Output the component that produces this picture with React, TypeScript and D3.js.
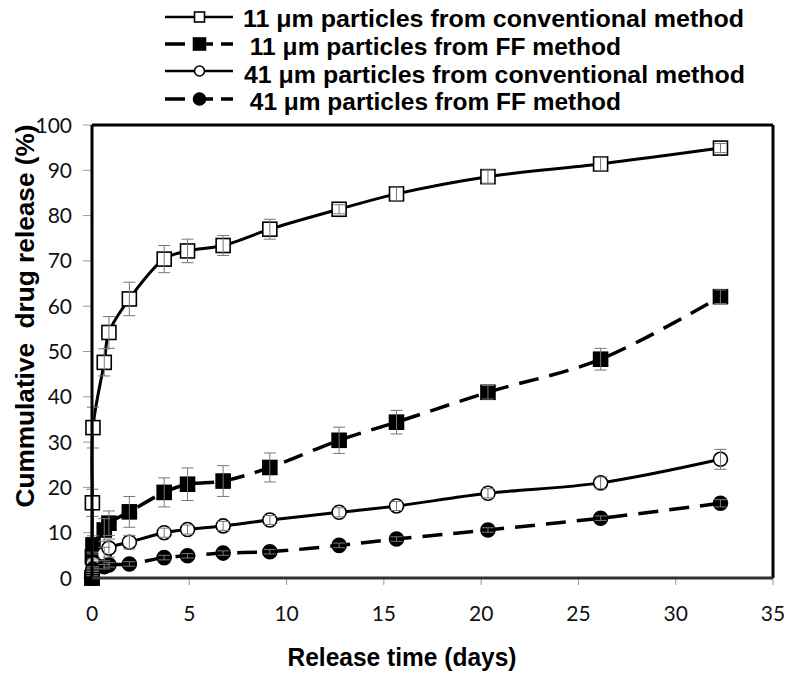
import React from "react";
import * as d3 from "d3";

const times = [0, 0.02, 0.05, 0.63, 0.87, 1.92, 3.71, 4.91, 6.74, 9.14, 12.7, 15.65, 20.35, 26.14, 32.3];

const conv11 = [0, 16.6, 33.2, 47.6, 54.2, 61.6, 70.4, 72.2, 73.4, 77.0, 81.4, 84.8, 88.6, 91.4, 94.9];
const conv11Err = [0, 3, 4.5, 3, 3.5, 3.7, 3, 2.6, 2.2, 2.2, 1, 1.5, 1.5, 1.5, 1];

const ff11 = [0, 4.7, 7.3, 10.6, 12.1, 14.6, 18.9, 20.7, 21.4, 24.4, 30.4, 34.4, 41.0, 48.3, 62.1];
const ff11Err = [0, 1, 2, 2.5, 2.7, 3.4, 3.2, 3.6, 3.4, 3.2, 2.9, 2.6, 1.5, 2.4, 1.5];

const conv41 = [0, 1.5, 3.2, 5.3, 6.6, 7.9, 10.0, 10.7, 11.5, 12.8, 14.5, 15.9, 18.7, 21.0, 26.2];
const conv41Err = [0, 0.5, 1, 1.5, 2, 1.5, 1, 1, 1, 1, 1, 1, 1, 1.3, 2.2];

const ff41 = [0, 1.0, 2.0, 2.5, 2.9, 3.1, 4.5, 4.9, 5.5, 5.8, 7.2, 8.6, 10.6, 13.2, 16.5];
const ff41Err = [0, 0.5, 0.5, 0.5, 0.5, 0.5, 0.5, 0.5, 0.5, 0.5, 0.5, 0.5, 0.5, 0.5, 0.8];

const legendLabels = [
  "11 \u03bcm particles from conventional method",
  " 11 \u03bcm particles from FF method",
  "41 \u03bcm particles from conventional method",
  " 41 \u03bcm particles from FF method",
];

const xTicks = [0, 5, 10, 15, 20, 25, 30, 35];
const yTicks = [0, 10, 20, 30, 40, 50, 60, 70, 80, 90, 100];

const xTitle = "Release time (days)";
const yTitle = "Cummulative  drug release (%)";

type Series = {
  values: number[];
  errors: number[];
  marker: "square" | "circle";
  filled: boolean;
  dashed: boolean;
};

const series: Series[] = [
  { values: conv11, errors: conv11Err, marker: "square", filled: false, dashed: false },
  { values: ff11, errors: ff11Err, marker: "square", filled: true, dashed: true },
  { values: conv41, errors: conv41Err, marker: "circle", filled: false, dashed: false },
  { values: ff41, errors: ff41Err, marker: "circle", filled: true, dashed: true },
];

const W = 794;
const H = 678;
const left = 92;
const right = 773;
const top = 125;
const bottom = 578;

function Marker({ cx, cy, s, size }: { cx: number; cy: number; s: Series; size: number }) {
  const fill = s.filled ? "#000" : "#fff";
  if (s.marker === "square") {
    return (
      <rect x={cx - size / 2} y={cy - size / 2} width={size} height={size} fill={fill} stroke="#000" strokeWidth={1.6} />
    );
  }
  return <circle cx={cx} cy={cy} r={size / 2} fill={fill} stroke="#000" strokeWidth={1.6} />;
}

export default function App() {
  const x = d3.scaleLinear().domain([0, 35]).range([left, right]);
  const y = d3.scaleLinear().domain([0, 100]).range([bottom, top]);
  const line = d3
    .line<[number, number]>()
    .x((d) => x(d[0]))
    .y((d) => y(d[1]))
    .curve(d3.curveCatmullRom.alpha(0.5));

  const numFont = "Lato, 'Open Sans', sans-serif";
  const boldFont = "'Liberation Sans', Arial, sans-serif";

  const legendY = [17, 44, 71, 99];
  const legendBase = [27, 55, 83, 110];
  const legendTextX = [243, 243, 244, 243];
  const legendLen = [501, 378, 501, 378];

  return (
    <svg width={W} height={H} style={{ position: "absolute", left: 0, top: 0, background: "#fff" }}>
      <rect x={0} y={0} width={W} height={H} fill="#fff" />
      {/* y ticks */}
      {yTicks.map((t) => (
        <g key={"yt" + t}>
          <line x1={left - 9} x2={left} y1={y(t)} y2={y(t)} stroke="#999" strokeWidth={1} />
          <text x={72} y={y(t) + 7.5} textAnchor="end" fontFamily={numFont} fontSize={21} fill="#111">
            {t}
          </text>
        </g>
      ))}
      {/* x ticks */}
      {xTicks.map((t) => (
        <g key={"xt" + t}>
          <line x1={x(t)} x2={x(t)} y1={bottom} y2={bottom + 7} stroke="#999" strokeWidth={1} />
          <text x={x(t)} y={621} textAnchor="middle" fontFamily={numFont} fontSize={21} fill="#111">
            {t}
          </text>
        </g>
      ))}

      {/* lines */}
      {series.map((s, i) => (
        <path
          key={"l" + i}
          d={line(times.map((t, j) => [t, s.values[j]] as [number, number])) || ""}
          fill="none"
          stroke="#000"
          strokeWidth={s.dashed ? 3.5 : 3}
          strokeDasharray={s.dashed ? "20,11" : undefined}
        />
      ))}
      {/* markers */}
      {series.map((s, i) => (
        <g key={"m" + i}>
          {times.map((t, j) => (
            <Marker key={j} cx={x(t)} cy={y(s.values[j])} s={s} size={s.marker === "square" ? 14 : 14} />
          ))}
        </g>
      ))}
      {/* error bars */}
      {series.map((s, i) => (
        <g key={"e" + i} stroke="#777" strokeWidth={1}>
          {times.map((t, j) =>
            s.errors[j] > 0 ? (
              <g key={j}>
                <line x1={x(t)} x2={x(t)} y1={y(s.values[j] - s.errors[j])} y2={y(s.values[j] + s.errors[j])} />
                <line x1={x(t) - 6} x2={x(t) + 6} y1={y(s.values[j] - s.errors[j])} y2={y(s.values[j] - s.errors[j])} />
                <line x1={x(t) - 6} x2={x(t) + 6} y1={y(s.values[j] + s.errors[j])} y2={y(s.values[j] + s.errors[j])} />
              </g>
            ) : null
          )}
        </g>
      ))}

      {/* frame */}
      <line x1={left} x2={right} y1={top} y2={top} stroke="#000" strokeWidth={3} />
      <line x1={right} x2={right} y1={top} y2={bottom} stroke="#000" strokeWidth={3} />
      <line x1={left} x2={left} y1={top} y2={bottom} stroke="#000" strokeWidth={3} />
      <line x1={left} x2={right} y1={bottom} y2={bottom} stroke="#333" strokeWidth={3} />

      {/* axis titles */}
      <text
        x={402}
        y={666}
        textAnchor="middle"
        fontFamily={boldFont}
        fontWeight="bold"
        fontSize={25}
        textLength={229}
        lengthAdjust="spacingAndGlyphs"
      >
        {xTitle}
      </text>
      <text
        transform={`translate(34,316) rotate(-90)`}
        textAnchor="middle"
        fontFamily={boldFont}
        fontWeight="bold"
        fontSize={26}
        textLength={383}
        lengthAdjust="spacingAndGlyphs"
        xmlSpace="preserve"
        style={{ whiteSpace: "pre" }}
      >
        {yTitle}
      </text>

      {/* legend */}
      {series.map((s, i) => (
        <g key={"lg" + i}>
          <line
            x1={165}
            x2={233}
            y1={legendY[i]}
            y2={legendY[i]}
            stroke="#000"
            strokeWidth={s.dashed ? 3.5 : 2.5}
            strokeDasharray={s.dashed ? "20,8" : undefined}
          />
          <Marker cx={199.5} cy={legendY[i]} s={s} size={s.filled ? 12 : 10} />
          <text
            x={legendTextX[i]}
            y={legendBase[i]}
            fontFamily={boldFont}
            fontWeight="bold"
            fontSize={23}
            textLength={legendLen[i]}
            lengthAdjust="spacingAndGlyphs"
            style={{ whiteSpace: "pre" }}
          >
            {legendLabels[i]}
          </text>
        </g>
      ))}
    </svg>
  );
}
